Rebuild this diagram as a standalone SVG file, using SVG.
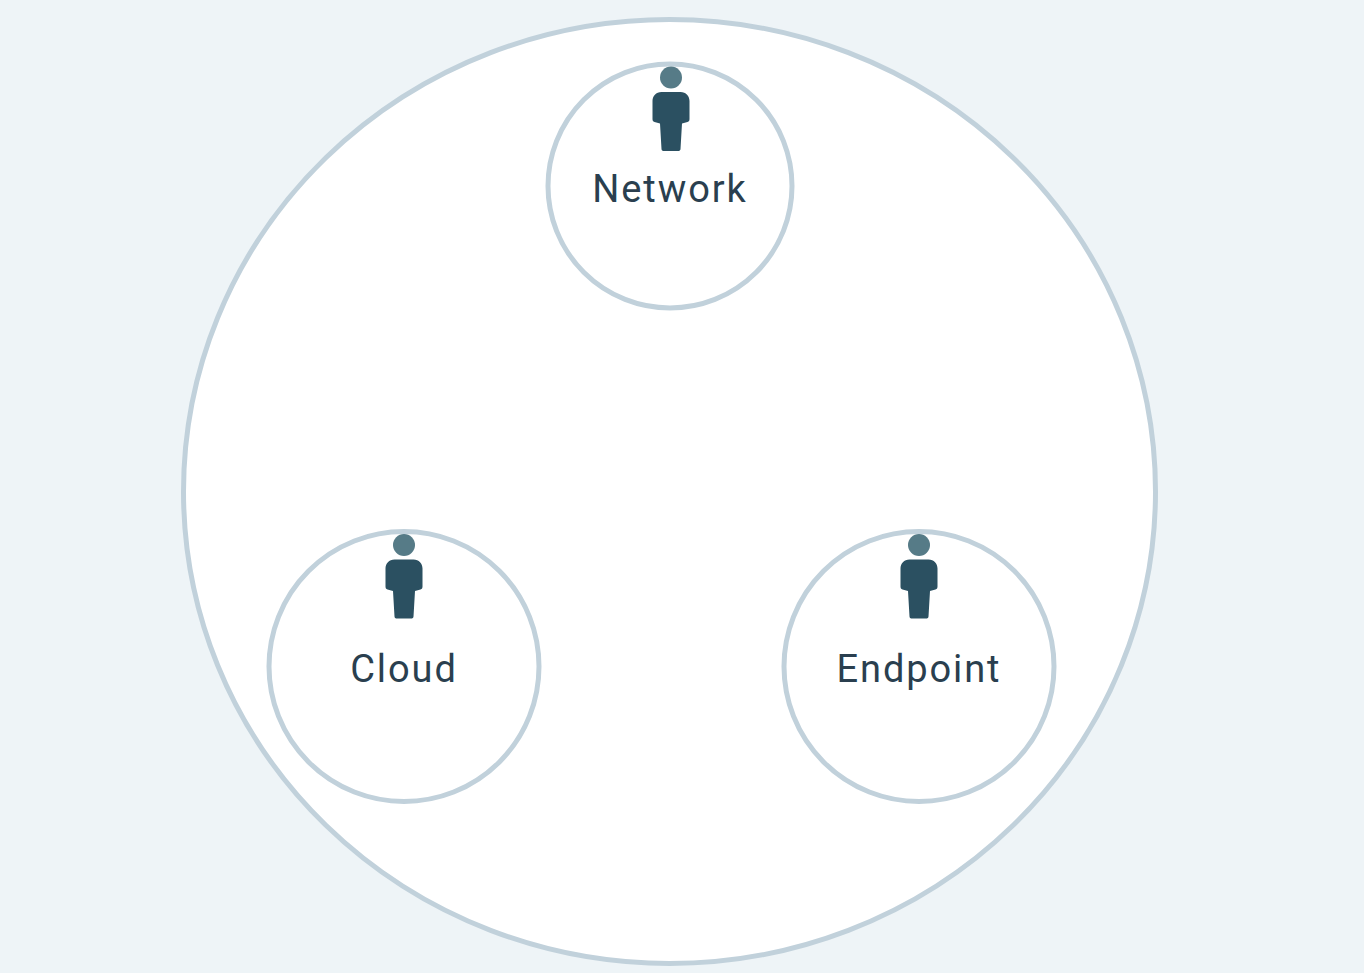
<svg xmlns="http://www.w3.org/2000/svg" xmlns:xlink="http://www.w3.org/1999/xlink" width="1364" height="973" viewBox="0 0 1364 973">
<style>
.ring{fill:#fff;stroke:#c1d1db;stroke-width:5}
.label{font-family:Roboto,"Noto Sans","Liberation Sans",sans-serif;font-size:38px;fill:#2a3f4f;text-anchor:middle;letter-spacing:1.9px}
.head{fill:#567b87}
.body{fill:#2b5061}
</style>
<defs>
<g id="person">
<circle class="head" cx="0" cy="-29.500" r="11"/>
<path class="body" d="M-9.500 -15H9.500C15 -15 18.500 -11 18.500 -6V12C18.500 13.500 18 14.500 16.500 15L11 16.500L9.500 42C9.400 43.500 8.500 44 7 44H-7C-8.500 44 -9.400 43.500 -9.500 42L-11 16.500L-16.500 15C-18 14.500 -18.500 13.500 -18.500 12V-6C-18.500 -11 -15 -15 -9.500 -15Z"/>
</g>
</defs>
<rect width="1364" height="973" fill="#eef4f7"/>
<g id="outer"><ellipse class="ring" cx="669.500" cy="491.500" rx="486" ry="472"/></g>
<g id="connectors"/>
<g id="network">
<circle class="ring" cx="670" cy="186" r="122"/>
<use xlink:href="#person" href="#person" x="671" y="107"/>
<text class="label" x="670" y="202">Network</text>
</g>
<g id="cloud">
<circle class="ring" cx="404" cy="666.500" r="135"/>
<use xlink:href="#person" href="#person" x="404" y="574.500"/>
<text class="label" x="404" y="682">Cloud</text>
</g>
<g id="endpoint">
<circle class="ring" cx="919" cy="666.500" r="135"/>
<use xlink:href="#person" href="#person" x="919" y="574.500"/>
<text class="label" x="919" y="682">Endpoint</text>
</g>
</svg>
